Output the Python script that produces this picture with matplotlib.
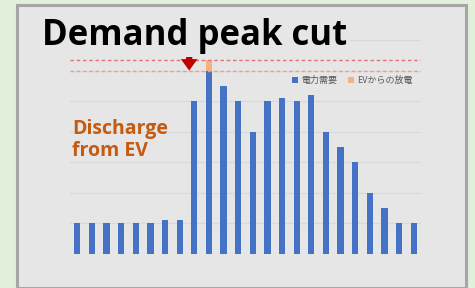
import numpy as np
import matplotlib
matplotlib.use("Agg")
import matplotlib.pyplot as plt
from matplotlib.patches import Rectangle

plt.rcParams['font.family'] = ['Noto Sans CJK JP', 'DejaVu Sans']

# hourly demand (arbitrary units) and EV discharge on top
hours = np.arange(24)
demand = [1.0, 1.0, 1.0, 1.0, 1.0, 1.0, 1.1, 1.1, 5.0, 6.0, 5.5, 5.0,
          4.0, 5.0, 5.1, 5.0, 5.2, 4.0, 3.5, 3.0, 2.0, 1.5, 1.0, 1.0]
ev_discharge = [0, 0, 0, 0, 0, 0, 0, 0, 0, 0.36, 0, 0,
                0, 0, 0, 0, 0, 0, 0, 0, 0, 0, 0, 0]
peak_before = 6.36
peak_after = 6.0
legend_labels = ['電力需要', 'EVからの放電']

fig = plt.figure(figsize=(4.75, 2.88), dpi=100)
fig.patch.set_facecolor('#e2efda')

# gray panel
panel = Rectangle((17 / 475, 0.0), 449 / 475, 283 / 288, transform=fig.transFigure,
                  facecolor='#e6e6e6', edgecolor='#a6a6a6', lw=2.2, zorder=-1)
fig.patches.append(panel)

ax = fig.add_axes([70 / 475, 34 / 288, 351 / 475, 214 / 288])
ax.set_zorder(1)
ax.set_facecolor('none')
ax.bar(hours, demand, width=0.42, color='#4472c4', label=legend_labels[0], zorder=3)
ax.bar(hours, ev_discharge, width=0.42, bottom=demand, color='#f4b183',
       label=legend_labels[1], zorder=3)

ax.set_xlim(-0.5, 23.5)
ax.set_ylim(0, 7)
ax.set_yticks(np.arange(1, 8))
ax.grid(axis='y', color='#d9d9d9', lw=0.9, zorder=0)
ax.tick_params(left=False, bottom=False, labelleft=False, labelbottom=False)
for s in ax.spines.values():
    s.set_visible(False)

ax.axhline(peak_before, color='#e86f6f', lw=1.0, ls=(0, (2.5, 2)), zorder=4)
ax.axhline(peak_after, color='#f0a070', lw=1.0, ls=(0, (2.5, 2)), zorder=4)

ax.annotate('', xy=(7.65, peak_after), xytext=(7.65, 6.46),
            arrowprops=dict(arrowstyle='simple,head_width=0.8,head_length=0.55,tail_width=0.3',
                            mutation_scale=15, color='#c00000', lw=0,
                            shrinkA=0, shrinkB=0), zorder=5)

ax.legend(loc='upper right', bbox_to_anchor=(1.0, 0.87), ncol=2, frameon=False,
          fontsize=6.5, labelcolor='#595959', handlelength=0.6, handleheight=0.6,
          handletextpad=0.4, columnspacing=1.2)

fig.text(42 / 475, 1 - 36 / 288, 'Demand peak cut', fontsize=25, fontweight='bold',
         family=['Open Sans', 'DejaVu Sans'], color='black', va='center', ha='left',
         bbox=dict(facecolor='#e6e6e6', edgecolor='none', pad=2), zorder=6)
fig.text(72 / 475, 1 - 140 / 288, 'Discharge\nfrom EV', fontsize=14, fontweight='bold',
         family=['Open Sans', 'DejaVu Sans'], color='#c55a11', va='center', ha='left',
         linespacing=1.15)

fig.savefig('out.png', dpi=100, facecolor=fig.get_facecolor())
